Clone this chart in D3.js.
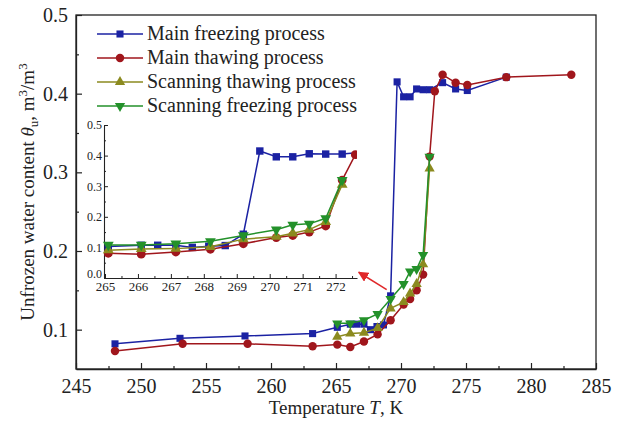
<!DOCTYPE html>
<html>
<head>
<meta charset="utf-8">
<script src="https://cdn.jsdelivr.net/npm/d3@7"></script>
<style>
  body { margin: 0; background: #fff; }
  svg { display: block; font-family: "Liberation Serif", "DejaVu Serif", serif; }
</style>
</head>
<body>
<script>
// data
const freezeT = [248, 253, 258, 263.2, 265.1, 266.1, 266.6, 267.15, 267.65, 268.15, 268.65, 269.2, 269.7, 270.2, 270.7, 271.2, 271.7, 272.2, 273.2, 274.2, 275.1, 278.1];
const freezeW = [0.082, 0.089, 0.092, 0.095, 0.103, 0.107, 0.107, 0.107, 0.100, 0.104, 0.106, 0.143, 0.415, 0.396, 0.396, 0.406, 0.405, 0.405, 0.414, 0.406, 0.404, 0.421];

const thawT = [248, 253.2, 258.2, 263.2, 265.1, 266.1, 267.15, 268.2, 269.2, 270.2, 270.7, 271.2, 271.7, 272.2, 272.6, 273.2, 274.2, 275.1, 278.1, 283.1];
const thawW = [0.073, 0.082, 0.082, 0.079, 0.081, 0.078, 0.085, 0.094, 0.112, 0.132, 0.139, 0.150, 0.170, 0.320, 0.403, 0.424, 0.414, 0.411, 0.421, 0.424];

const scanT = [265.1, 266.1, 267.15, 268.2, 269.2, 270.2, 270.7, 271.2, 271.7, 272.2];
const scanThawW = [0.091, 0.095, 0.096, 0.102, 0.127, 0.135, 0.146, 0.158, 0.183, 0.305];
const scanFreezeW = [0.108, 0.108, 0.112, 0.120, 0.139, 0.158, 0.174, 0.177, 0.195, 0.320];

const legendNames = ["Main freezing process", "Main thawing process", "Scanning thawing process", "Scanning freezing process"];
const xTicks = [245, 250, 255, 260, 265, 270, 275, 280, 285];
const yTicks = [0.1, 0.2, 0.3, 0.4, 0.5];
const insetXTicks = [265, 266, 267, 268, 269, 270, 271, 272];
const insetYTicks = [0.0, 0.1, 0.2, 0.3, 0.4, 0.5];

const series = [
  { name: legendNames[0], xs: freezeT, ys: freezeW, color: "#1b22a3", sym: d3.symbolSquare, size: 50, rot: 0 },
  { name: legendNames[1], xs: thawT, ys: thawW, color: "#a0161c", sym: d3.symbolCircle, size: 56, rot: 0 },
  { name: legendNames[2], xs: scanT, ys: scanThawW, color: "#8b8a1f", sym: d3.symbolTriangle, size: 46, rot: 0 },
  { name: legendNames[3], xs: scanT, ys: scanFreezeW, color: "#23912a", sym: d3.symbolTriangle, size: 46, rot: 180 }
];

const svg = d3.select("body").append("svg").attr("width", 621).attr("height", 425);

// main plot
const x = d3.scaleLinear().domain([245, 285]).range([76, 596]);
const y = d3.scaleLinear().domain([0.05, 0.5]).range([369, 15]);

const main = svg.append("g");
main.append("rect")
  .attr("x", x(245)).attr("y", y(0.5))
  .attr("width", x(285) - x(245)).attr("height", y(0.05) - y(0.5))
  .attr("fill", "none").attr("stroke", "#222").attr("stroke-width", 1.3);

const xAxis = main.append("g").attr("transform", `translate(0,${y(0.05)})`)
  .call(d3.axisBottom(x).tickValues(xTicks).tickFormat(d3.format("d")).tickSizeInner(-6).tickSizeOuter(0).tickPadding(10));
main.append("g").attr("transform", `translate(0,${y(0.05)})`)
  .call(d3.axisBottom(x).tickValues(d3.range(247.5, 285, 5)).tickFormat("").tickSizeInner(-3).tickSizeOuter(0))
  .select(".domain").remove();
const yAxis = main.append("g").attr("transform", `translate(${x(245)},0)`)
  .call(d3.axisLeft(y).tickValues(yTicks).tickFormat(d3.format(".1f")).tickSizeInner(-6).tickSizeOuter(0).tickPadding(8));
main.append("g").attr("transform", `translate(${x(245)},0)`)
  .call(d3.axisLeft(y).tickValues(d3.range(0.15, 0.5, 0.1)).tickFormat("").tickSizeInner(-3).tickSizeOuter(0))
  .select(".domain").remove();

svg.selectAll(".tick line").attr("stroke", "#222").attr("stroke-width", 1.2);
svg.selectAll(".domain").attr("stroke", "#222").attr("stroke-width", 1.3);
xAxis.selectAll("text").attr("font-size", 20).attr("font-family", "Liberation Serif").attr("fill", "#222");
yAxis.selectAll("text").attr("font-size", 20).attr("font-family", "Liberation Serif").attr("fill", "#222");

// axis titles
svg.append("text")
  .attr("x", 336).attr("y", 414)
  .attr("text-anchor", "middle").attr("font-size", 19).attr("fill", "#222")
  .call(t => {
    t.append("tspan").text("Temperature ");
    t.append("tspan").attr("font-style", "italic").text("T");
    t.append("tspan").text(", K");
  });

svg.append("text")
  .attr("transform", "translate(34,192) rotate(-90)")
  .attr("text-anchor", "middle").attr("font-size", 19).attr("fill", "#222")
  .call(t => {
    t.append("tspan").text("Unfrozen water content ");
    t.append("tspan").attr("font-style", "italic").text("θ");
    t.append("tspan").attr("font-size", 13).attr("dy", 4).text("u");
    t.append("tspan").attr("dy", -4).text(", m");
    t.append("tspan").attr("font-size", 13).attr("dy", -7).text("3");
    t.append("tspan").attr("dy", 7).text("/m");
    t.append("tspan").attr("font-size", 13).attr("dy", -7).text("3");
  });

function drawSeries(g, sx, sy, s, scale) {
  const pts = s.xs.map((t, i) => [t, s.ys[i]]).filter(p => p[0] >= sx.domain()[0] - 0.01);
  const line = d3.line().x(d => sx(d[0])).y(d => sy(d[1]));
  g.append("path").datum(pts)
    .attr("d", line).attr("fill", "none")
    .attr("stroke", s.color).attr("stroke-width", 1.5);
  g.selectAll(null).data(pts).enter().append("path")
    .attr("d", d3.symbol().type(s.sym).size(s.size * scale))
    .attr("transform", d => `translate(${sx(d[0])},${sy(d[1])}) rotate(${s.rot})`)
    .attr("fill", s.color);
}

const mainData = main.append("g");
series.forEach(s => drawSeries(mainData, x, y, s, 1));

// legend
const legend = svg.append("g");
series.forEach((s, i) => {
  const ly = 34 + i * 24;
  legend.append("line").attr("x1", 97).attr("x2", 143).attr("y1", ly).attr("y2", ly)
    .attr("stroke", s.color).attr("stroke-width", 1.5);
  legend.append("path")
    .attr("d", d3.symbol().type(s.sym).size(s.size))
    .attr("transform", `translate(120,${ly}) rotate(${s.rot})`)
    .attr("fill", s.color);
  legend.append("text").attr("x", 147).attr("y", ly + 6)
    .attr("font-size", 20).attr("fill", "#222").text(s.name);
});

// inset
const ix = d3.scaleLinear().domain([265, 272.65]).range([105, 357]);
const iy = d3.scaleLinear().domain([0, 0.5]).range([278, 125]);
const inset = svg.append("g");

const clip = svg.append("clipPath").attr("id", "insetClip");
clip.append("rect").attr("x", ix(265) - 6).attr("y", iy(0.5) - 6)
  .attr("width", ix(272.65) - ix(265) + 6).attr("height", iy(0) - iy(0.5) + 6);

const ixAxis = inset.append("g").attr("transform", `translate(0,${iy(0)})`)
  .call(d3.axisBottom(ix).tickValues(insetXTicks).tickFormat(d3.format("d")).tickSizeInner(-4).tickSizeOuter(0).tickPadding(4));
inset.append("g").attr("transform", `translate(0,${iy(0)})`)
  .call(d3.axisBottom(ix).tickValues(d3.range(265.5, 272.6, 1)).tickFormat("").tickSizeInner(-2).tickSizeOuter(0))
  .select(".domain").remove();
const iyAxis = inset.append("g").attr("transform", `translate(${ix(265) - 1},0)`)
  .call(d3.axisLeft(iy).tickValues(insetYTicks).tickFormat(d3.format(".1f")).tickSizeInner(-4).tickSizeOuter(0).tickPadding(2));
inset.append("g").attr("transform", `translate(${ix(265) - 1},0)`)
  .call(d3.axisLeft(iy).tickValues(d3.range(0.05, 0.5, 0.1)).tickFormat("").tickSizeInner(-2).tickSizeOuter(0))
  .select(".domain").remove();
inset.selectAll(".tick line").attr("stroke", "#222").attr("stroke-width", 1);
inset.selectAll(".domain").attr("stroke", "#222").attr("stroke-width", 1.1);
ixAxis.selectAll("text").attr("font-size", 13).attr("font-family", "Liberation Serif").attr("fill", "#222");
iyAxis.selectAll("text").attr("font-size", 12).attr("font-family", "Liberation Serif").attr("fill", "#222");
// lift the 0.0 label a little so it clears the 265 label, as in the figure
iyAxis.selectAll(".tick").filter(d => d === 0).select("text").attr("dy", "-0.05em");

const insetData = inset.append("g").attr("clip-path", "url(#insetClip)");
series.forEach(s => drawSeries(insetData, ix, iy, s, 1.1));

// red arrow pointing from the main curves to the inset
const defs = svg.append("defs");
defs.append("marker").attr("id", "arrowHead")
  .attr("viewBox", "0 0 10 10").attr("refX", 9).attr("refY", 5)
  .attr("markerWidth", 7).attr("markerHeight", 7).attr("orient", "auto")
  .append("path").attr("d", "M0,0 L10,5 L0,10 z").attr("fill", "#e0282a");
svg.append("line")
  .attr("x1", x(268.9)).attr("y1", y(0.151))
  .attr("x2", x(266.75)).attr("y2", y(0.173))
  .attr("stroke", "#e0282a").attr("stroke-width", 1.5)
  .attr("marker-end", "url(#arrowHead)");
</script>
</body>
</html>
